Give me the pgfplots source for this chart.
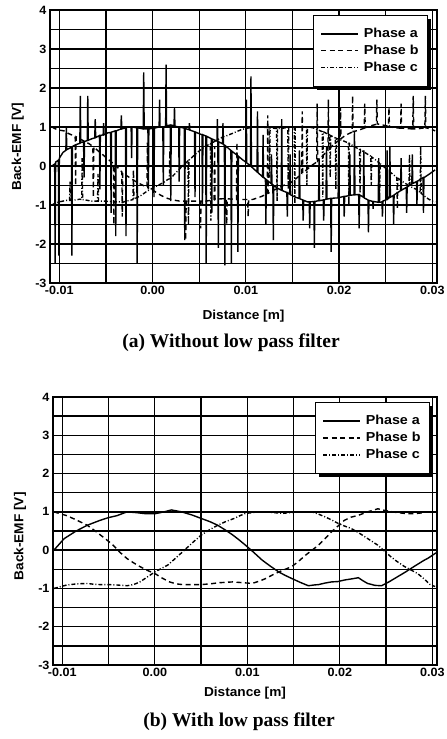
\documentclass[border=0pt]{standalone}
\usepackage{fontspec}
\setmainfont{Liberation Serif}
\newfontfamily\plotfont{Liberation Sans}[FakeStretch=1.05]
\newfontfamily\legfont{Liberation Sans}[FakeStretch=1.1]
\usepackage{pgfplots}
\pgfplotsset{compat=1.18}

\pgfplotsset{
  emf/.style={
    scale only axis,
    anchor=south west,
    xmin=-0.011, xmax=0.0305,
    ymin=-3, ymax=4,
    xtick={-0.01,0,0.01,0.02,0.03},
    xticklabels={-0.01,0.00,0.01,0.02,0.03},
    minor xtick={-0.005,0.005,0.015,0.025},
    ytick={-3,-2,-1,0,1,2,3,4},
    yticklabels={-3,-2,-1,0,1,2,3,4},
    minor ytick={-2.5,-1.5,-0.5,0.5,1.5,2.5,3.5},
    scaled x ticks=false,
    grid=both,
    major grid style={black, line width=1.3pt},
    minor grid style={black, line width=1.3pt},
    major tick length=0pt, minor tick length=0pt,
    axis line style={line width=1.5pt},
    ticklabel style={font=\plotfont\bfseries\fontsize{12}{14}\selectfont},
    label style={font=\plotfont\bfseries\fontsize{13}{15}\selectfont},
    xlabel={Distance [m]},
    ylabel={Back-EMF [V]},
    legend cell align=left,
    legend style={font=\legfont\bfseries\fontsize{13}{15}\selectfont,
      anchor=north east, draw=black, line width=0.9pt, fill=white,
      row sep=2pt, inner xsep=7pt, inner ysep=11pt,
      /tikz/every odd column/.append style={column sep=3pt}},
    legend image code/.code={\draw[#1] (0pt,0pt) -- (37pt,0pt);},
  },
  pa/.style={black, line width=1.4pt},
  pb/.style={black, line width=1.4pt, dash pattern=on 5pt off 3.5pt},
  pc/.style={black, line width=1.4pt, dash pattern=on 4pt off 2pt on 1pt off 2pt},
}

\begin{document}
\begin{tikzpicture}
\useasboundingbox (0,0) rectangle (447pt,739pt);

% (a) without low pass filter
\begin{axis}[emf,
  at={(50pt,456pt)}, width=387pt, height=273pt,
  xlabel style={at={(axis description cs:0.5,-0.12)}, anchor=center},
  ylabel style={at={(axis description cs:-0.083,0.5)}, anchor=center},
  legend style={at={(0.977,0.982)}, name=legA},
]
\addplot[pa] coordinates {
(-0.0108,0.0)
(-0.0105,0.05) (-0.01045,-2.5) (-0.0104,0.1)
(-0.0101,0.15) (-0.01005,-2.3) (-0.0100,0.2)
(-0.0096,0.35)
(-0.0093,0.4) (-0.00925,1.0) (-0.0092,0.42)
(-0.0087,0.48) (-0.00865,-2.3) (-0.0086,0.5)
(-0.0082,0.55)
(-0.0078,0.58) (-0.00775,1.8) (-0.0077,0.6)
(-0.0074,0.62) (-0.00735,-0.3) (-0.0073,0.63)
(-0.0070,0.65) (-0.00695,1.8) (-0.0069,0.66)
(-0.0065,0.7)
(-0.0062,0.72) (-0.00615,1.2) (-0.0061,0.73)
(-0.0057,0.78) (-0.00565,-0.6) (-0.0056,0.78)
(-0.0053,0.8) (-0.00525,1.1) (-0.0052,0.8)
(-0.0048,0.85)
(-0.0045,0.86) (-0.00445,-1.2) (-0.0044,0.87)
(-0.0040,0.9) (-0.00395,-1.8) (-0.0039,0.9)
(-0.0034,0.95) (-0.00335,1.3) (-0.0033,0.95)
(-0.0029,0.98) (-0.00285,-1.8) (-0.0028,1.0)
(-0.0023,1.0) (-0.00225,0.2) (-0.0022,1.0)
(-0.0017,0.98) (-0.00165,-2.5) (-0.0016,0.98)
(-0.0010,0.95) (-0.00095,2.4) (-0.0009,0.95)
(-0.0005,0.95) (-0.00045,-0.6) (-0.0004,0.95)
(0.0001,0.97) (0.00015,-0.8) (0.0002,0.97)
(0.0007,1.0) (0.00075,1.7) (0.0008,1.0)
(0.0011,1.0) (0.00115,-0.5) (0.0012,1.0)
(0.0014,1.02) (0.00145,2.6) (0.0015,1.03)
(0.0019,1.05) (0.00195,-0.9) (0.0020,1.05)
(0.0023,1.03) (0.00235,1.5) (0.0024,1.02)
(0.0028,1.0) (0.00285,-0.4) (0.0029,1.0)
(0.0034,0.97) (0.00345,-1.9) (0.0035,0.96)
(0.0039,0.93) (0.00395,1.1) (0.0040,0.92)
(0.0045,0.88) (0.00455,-0.8) (0.0046,0.87)
(0.0050,0.83)
(0.0053,0.8) (0.00535,-1.0) (0.0054,0.8)
(0.0057,0.77) (0.00575,-2.5) (0.0058,0.76)
(0.0063,0.7) (0.00635,-1.2) (0.0064,0.69)
(0.0069,0.64) (0.00695,1.2) (0.0070,0.63) (0.00705,-2.1) (0.0071,0.62)
(0.0075,0.57) (0.00755,1.1) (0.0076,0.55)
(0.0077,0.53) (0.00775,-2.55) (0.0078,0.52)
(0.0084,0.4) (0.00845,-2.5) (0.0085,0.38)
(0.0091,0.27) (0.00915,-2.2) (0.0092,0.25)
(0.0097,0.15)
(0.0100,0.1) (0.01005,1.7) (0.0101,0.08)
(0.0105,0.0) (0.01055,2.3) (0.0106,-0.02)
(0.0112,-0.15) (0.01125,1.4) (0.0113,-0.17)
(0.0118,-0.28) (0.01185,0.8) (0.0119,-0.29)
(0.0121,-0.33) (0.01215,-1.5) (0.0122,-0.35)
(0.0127,-0.45) (0.01275,0.3) (0.0128,-0.46)
(0.0129,-0.48) (0.01295,-1.9) (0.0130,-0.5)
(0.0134,-0.57)
(0.0138,-0.62) (0.01385,1.2) (0.0139,-0.63)
(0.0144,-0.68) (0.01445,-1.3) (0.0145,-0.69)
(0.0147,-0.72) (0.01475,0.3) (0.0148,-0.74)
(0.0153,-0.8)
(0.0157,-0.83) (0.01575,0.4) (0.0158,-0.84)
(0.0161,-0.87) (0.01615,-1.4) (0.0162,-0.88)
(0.0166,-0.92)
(0.0168,-0.92) (0.01685,-1.6) (0.0169,-0.92)
(0.0173,-0.91) (0.01735,-2.1) (0.0174,-0.91)
(0.0178,-0.89) (0.01785,0.2) (0.0179,-0.89)
(0.0183,-0.87) (0.01835,-1.4) (0.0184,-0.87)
(0.0186,-0.85) (0.01865,0.5) (0.0187,-0.85)
(0.0191,-0.83) (0.01915,-2.2) (0.0192,-0.83)
(0.0196,-0.82)
(0.0199,-0.82) (0.01995,0.6) (0.0200,-0.81)
(0.0205,-0.78) (0.02055,-1.3) (0.0206,-0.78)
(0.0211,-0.76) (0.02115,0.3) (0.0212,-0.75)
(0.0216,-0.74) (0.02165,0.9) (0.0217,-0.74)
(0.0221,-0.73) (0.02215,-1.6) (0.0222,-0.74)
(0.0226,-0.8) (0.02265,0.4) (0.0227,-0.82)
(0.0231,-0.87) (0.02315,-1.7) (0.0232,-0.88)
(0.0236,-0.91) (0.02365,-1.1) (0.0237,-0.91)
(0.0242,-0.93) (0.02425,0.2) (0.0243,-0.93)
(0.0246,-0.92) (0.02465,-1.3) (0.0247,-0.9)
(0.0251,-0.86) (0.02515,0.4) (0.0252,-0.85)
(0.0254,-0.81) (0.02545,0.5) (0.0255,-0.8)
(0.0258,-0.76) (0.02585,-1.5) (0.0259,-0.74)
(0.0263,-0.68)
(0.0266,-0.63) (0.02665,0.2) (0.0267,-0.62)
(0.0272,-0.55) (0.02725,-1.2) (0.0273,-0.54)
(0.0278,-0.46) (0.02785,0.3) (0.0279,-0.45)
(0.0283,-0.4) (0.02835,-1.0) (0.0284,-0.39)
(0.0290,-0.3) (0.02905,-1.2) (0.0291,-0.3)
(0.0296,-0.22)
(0.0303,-0.1)
};
\addlegendentry{Phase a}
\addplot[pb] coordinates {
(-0.0108,1.0) (-0.0104,0.95) (-0.0100,0.92) (-0.0095,0.9) (-0.0090,0.83)
(-0.0083,0.76) (-0.00825,-0.5) (-0.0082,0.75)
(-0.0076,0.67) (-0.0072,0.62) (-0.0068,0.57)
(-0.0064,0.5) (-0.00635,-0.8) (-0.0063,0.49)
(-0.0059,0.4) (-0.0054,0.3) (-0.0050,0.22) (-0.0046,0.14)
(-0.0042,0.06) (-0.00415,-1.5) (-0.0041,0.04)
(-0.0037,-0.05)
(-0.0033,-0.15) (-0.00325,-1.3) (-0.0032,-0.17)
(-0.0027,-0.26) (-0.0022,-0.34) (-0.0018,-0.4) (-0.0014,-0.45) (-0.0010,-0.5)
(-0.0006,-0.54) (-0.00055,0.6) (-0.0005,-0.55)
(0.0000,-0.61) (0.0004,-0.68) (0.0008,-0.74) (0.0012,-0.79) (0.0016,-0.83)
(0.0020,-0.86) (0.0024,-0.88) (0.0029,-0.9)
(0.0035,-0.9) (0.00355,-1.9) (0.0036,-0.9)
(0.0041,-0.9) (0.0046,-0.9)
(0.0051,-0.9) (0.00515,-1.6) (0.0052,-0.9)
(0.0057,-0.9) (0.0063,-0.88)
(0.0066,-0.87) (0.00665,0.5) (0.0067,-0.86)
(0.0069,-0.85) (0.0075,-0.84)
(0.0079,-0.84) (0.00795,-1.5) (0.0080,-0.84)
(0.0085,-0.85)
(0.0090,-0.86) (0.00905,0.6) (0.0091,-0.86)
(0.0096,-0.86)
(0.0102,-0.86) (0.01025,-1.3) (0.0103,-0.86)
(0.0107,-0.86) (0.0111,-0.83) (0.0117,-0.78)
(0.0123,-0.71) (0.01235,1.3) (0.0124,-0.7)
(0.0130,-0.62) (0.0136,-0.55) (0.0142,-0.48) (0.0148,-0.43) (0.0154,-0.32)
(0.0160,-0.2) (0.01605,1.4) (0.0161,-0.18)
(0.0166,-0.08) (0.0171,0.02)
(0.0176,0.1) (0.01765,1.6) (0.0177,0.13)
(0.0182,0.25)
(0.0188,0.4) (0.01885,1.7) (0.0189,0.42)
(0.0194,0.55)
(0.0201,0.68) (0.02015,1.5) (0.0202,0.7)
(0.0207,0.79)
(0.0214,0.87) (0.02145,1.8) (0.0215,0.88)
(0.0220,0.91)
(0.0227,0.97) (0.02275,1.6) (0.0228,0.98)
(0.0234,1.03)
(0.0240,1.07) (0.02405,1.7) (0.0241,1.08)
(0.0247,1.05)
(0.0253,1.02) (0.02535,1.5) (0.0254,1.01)
(0.0260,0.98)
(0.0266,0.97) (0.02665,1.6) (0.0267,0.97)
(0.0273,0.96)
(0.0279,0.95) (0.02795,1.8) (0.0280,0.95)
(0.0286,0.96)
(0.0292,0.98) (0.02925,1.8) (0.0293,0.98)
(0.0298,0.95) (0.0303,0.9)
};
\addlegendentry{Phase b}
\addplot[pc] coordinates {
(-0.0108,-1.0) (-0.0104,-0.95) (-0.0100,-0.92) (-0.0096,-0.9) (-0.0092,-0.88)
(-0.0089,-0.88) (-0.00885,-0.4) (-0.0088,-0.88)
(-0.0082,-0.87) (-0.0078,-0.85)
(-0.0076,-0.86) (-0.00755,0.2) (-0.0075,-0.86)
(-0.0070,-0.88) (-0.0066,-0.9) (-0.0062,-0.9)
(-0.0059,-0.9) (-0.00585,-0.2) (-0.0058,-0.9)
(-0.0052,-0.9) (-0.0048,-0.91) (-0.0044,-0.91) (-0.0040,-0.92) (-0.0036,-0.92)
(-0.0032,-0.93) (-0.0028,-0.9) (-0.0024,-0.88)
(-0.0021,-0.86) (-0.00205,-0.1) (-0.0020,-0.85)
(-0.0016,-0.8) (-0.0012,-0.75) (-0.0008,-0.68) (-0.0004,-0.62) (0.0000,-0.57)
(0.0004,-0.52) (0.0008,-0.47) (0.0012,-0.42) (0.0016,-0.35)
(0.0018,-0.33) (0.00185,0.4) (0.0019,-0.32)
(0.0024,-0.2) (0.0028,-0.1) (0.0032,0.0)
(0.0038,0.13) (0.00385,-1.5) (0.0039,0.15)
(0.0044,0.26) (0.0048,0.35) (0.0052,0.42) (0.0056,0.5)
(0.0062,0.57) (0.00625,-1.4) (0.0063,0.58)
(0.0068,0.65) (0.0072,0.7) (0.0076,0.75) (0.0080,0.78) (0.0084,0.82)
(0.0088,0.86) (0.0092,0.9) (0.0096,0.94) (0.0100,0.96) (0.0104,0.98)
(0.0108,1.0) (0.0116,1.0)
(0.0125,0.98) (0.01255,-0.3) (0.0126,0.98)
(0.0133,0.96) (0.01335,-0.9) (0.0134,0.96)
(0.0140,0.97)
(0.0145,0.99) (0.01455,-0.6) (0.0146,0.99)
(0.0152,1.0) (0.01525,-1.0) (0.0153,1.0)
(0.0158,1.0)
(0.0165,1.0) (0.01655,-0.5) (0.0166,1.0)
(0.0172,0.98) (0.0176,0.94) (0.0180,0.9)
(0.0182,0.88) (0.01825,-0.8) (0.0183,0.88)
(0.0190,0.79) (0.01905,-0.3) (0.0191,0.78)
(0.0196,0.72) (0.01965,-0.6) (0.0197,0.71)
(0.0200,0.68) (0.0204,0.65) (0.0208,0.61)
(0.0210,0.59) (0.02105,-1.0) (0.0211,0.58)
(0.0216,0.5) (0.0220,0.45)
(0.0222,0.43) (0.02225,-0.7) (0.0223,0.42)
(0.0228,0.34)
(0.0234,0.25) (0.02345,-0.5) (0.0235,0.23)
(0.0240,0.14)
(0.0243,0.08) (0.02435,-0.9) (0.0244,0.06)
(0.0248,-0.02) (0.0252,-0.1) (0.0256,-0.18)
(0.0262,-0.3) (0.02625,-1.1) (0.0263,-0.31)
(0.0268,-0.4) (0.0272,-0.46)
(0.0275,-0.5) (0.02755,0.3) (0.0276,-0.52)
(0.0280,-0.57) (0.0284,-0.61)
(0.0287,-0.68) (0.02875,0.5) (0.0288,-0.7)
(0.0292,-0.78) (0.0296,-0.85) (0.0300,-0.9) (0.0303,-0.92)
};
\addlegendentry{Phase c}
\end{axis}
\draw[line width=3pt] ([xshift=1.5pt,yshift=-4pt]legA.north east)
  -- ([xshift=1.5pt,yshift=-1.5pt]legA.south east)
  -- ([xshift=4pt,yshift=-1.5pt]legA.south west);
\node[font=\bfseries\fontsize{19.5}{22}\selectfont] at (231pt,396pt) {(a) Without low pass filter};

% (b) with low pass filter
\begin{axis}[emf,
  at={(53pt,74pt)}, width=384pt, height=268pt,
  xlabel style={at={(axis description cs:0.5,-0.104)}, anchor=center},
  ylabel style={at={(axis description cs:-0.086,0.48)}, anchor=center},
  legend style={at={(0.982,0.981)}, name=legB},
]
\addplot[pa] coordinates {
(-0.0109,0.0) (-0.0098,0.3) (-0.0085,0.5) (-0.0073,0.65) (-0.0059,0.78)
(-0.0050,0.85) (-0.0041,0.9) (-0.0030,1.0) (-0.0020,0.98) (-0.0009,0.95)
(0.0000,0.95) (0.0010,1.0) (0.0018,1.05) (0.0029,1.0) (0.0040,0.92)
(0.0050,0.83) (0.0060,0.74) (0.0068,0.65) (0.0076,0.53) (0.0084,0.4)
(0.0091,0.27) (0.0098,0.13) (0.0107,-0.06) (0.0116,-0.26) (0.0125,-0.42)
(0.0134,-0.57) (0.0141,-0.66) (0.0148,-0.74) (0.0157,-0.84) (0.0166,-0.93)
(0.0172,-0.91) (0.0177,-0.9) (0.0184,-0.86) (0.0191,-0.83) (0.0198,-0.82)
(0.0205,-0.78) (0.0213,-0.75) (0.0220,-0.72) (0.0225,-0.8) (0.0230,-0.87)
(0.0238,-0.92) (0.0245,-0.93) (0.0253,-0.83) (0.0262,-0.7) (0.0271,-0.57)
(0.0280,-0.43) (0.0290,-0.28) (0.0296,-0.2) (0.0304,-0.07)
};
\addlegendentry{Phase a}
\addplot[pb] coordinates {
(-0.0109,1.0) (-0.0095,0.9) (-0.0084,0.78) (-0.0073,0.65) (-0.0066,0.53)
(-0.0059,0.4) (-0.0052,0.27) (-0.0045,0.13) (-0.0038,-0.05) (-0.0030,-0.22)
(-0.0023,-0.33) (-0.0016,-0.43) (-0.0008,-0.53) (0.0000,-0.61) (0.0008,-0.73)
(0.0016,-0.83) (0.0023,-0.88) (0.0030,-0.9) (0.0040,-0.9) (0.0050,-0.9)
(0.0060,-0.88) (0.0070,-0.85) (0.0084,-0.83) (0.0095,-0.85) (0.0105,-0.87)
(0.0113,-0.81) (0.0120,-0.74) (0.0127,-0.65) (0.0134,-0.57) (0.0141,-0.5)
(0.0148,-0.43) (0.0155,-0.3) (0.0163,-0.13) (0.0170,0.0) (0.0177,0.13)
(0.0184,0.3) (0.0191,0.48) (0.0198,0.63) (0.0205,0.78) (0.0212,0.86)
(0.0220,0.91) (0.0230,1.0) (0.0241,1.08) (0.0250,1.03) (0.0262,0.98)
(0.0270,0.96) (0.0280,0.95) (0.0291,0.98)
};
\addlegendentry{Phase b}
\addplot[pc] coordinates {
(-0.0109,-1.0) (-0.0095,-0.91) (-0.0084,-0.88) (-0.0073,-0.87) (-0.0066,-0.89)
(-0.0059,-0.9) (-0.0050,-0.9) (-0.0041,-0.91) (-0.0030,-0.93) (-0.0023,-0.9)
(-0.0016,-0.83) (-0.0008,-0.7) (0.0000,-0.57) (0.0007,-0.48) (0.0014,-0.39)
(0.0023,-0.2) (0.0032,0.0) (0.0041,0.2) (0.0050,0.39) (0.0059,0.53)
(0.0068,0.65) (0.0077,0.75) (0.0086,0.83) (0.0092,0.9) (0.0098,0.96)
(0.0109,0.99) (0.0120,1.0) (0.0129,0.98) (0.0138,0.96) (0.0146,0.98)
(0.0155,1.0) (0.0163,1.0) (0.0170,1.0) (0.0177,0.94) (0.0184,0.87)
(0.0191,0.79) (0.0198,0.7) (0.0205,0.63) (0.0212,0.57) (0.0220,0.46)
(0.0227,0.35) (0.0234,0.24) (0.0241,0.13) (0.0248,-0.02) (0.0255,-0.17)
(0.0262,-0.3) (0.0270,-0.43) (0.0277,-0.52) (0.0284,-0.61) (0.0291,-0.75)
(0.0298,-0.91) (0.0303,-0.95)
};
\addlegendentry{Phase c}
\end{axis}
\draw[line width=3pt] ([xshift=1.5pt,yshift=-4pt]legB.north east)
  -- ([xshift=1.5pt,yshift=-1.5pt]legB.south east)
  -- ([xshift=4pt,yshift=-1.5pt]legB.south west);
\node[font=\bfseries\fontsize{19.5}{22}\selectfont] at (239pt,17pt) {(b) With low pass filter};
\end{tikzpicture}
\end{document}
